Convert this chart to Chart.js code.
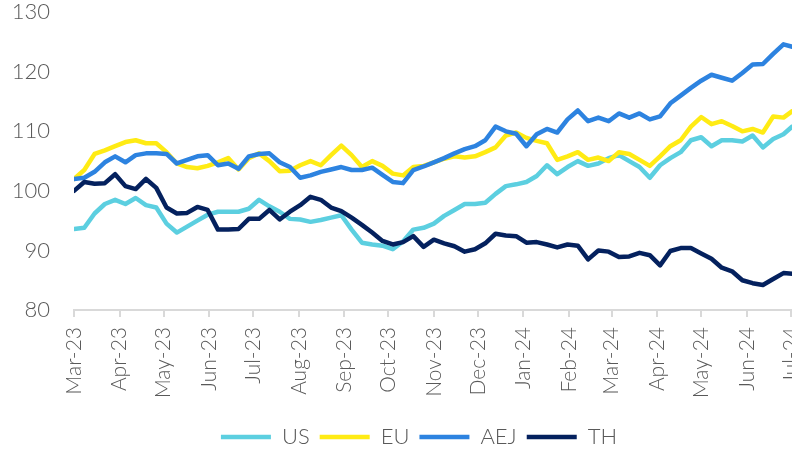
<!DOCTYPE html>
<html>
<head>
<meta charset="utf-8">
<script src="https://cdn.jsdelivr.net/npm/chart.js@4.4.1/dist/chart.umd.min.js"></script>
<style>
    html, body { margin: 0; padding: 0; background: #fff; overflow: hidden; }
    #wrap { position: relative; width: 826px; height: 475px; margin-top: -17px; }
</style>
</head>
<body>
<div id="wrap"><canvas id="indexChart"></canvas></div>
<script>
// Days since 1 Mar 2023 for each sampled point (weekly)
const days = [0, 7, 14, 21, 28, 35, 42, 49, 56, 63, 70, 77, 84, 91, 98, 105, 112, 119, 126, 133,
    140, 147, 154, 161, 168, 175, 182, 189, 196, 203, 210, 217, 224, 231, 238, 245, 252, 259, 266, 273,
    280, 287, 294, 301, 308, 315, 322, 329, 336, 343, 350, 357, 364, 371, 378, 385, 392, 399, 406, 413,
    420, 427, 434, 441, 448, 455, 462, 469, 476, 483, 489];

const usValues = [93.6, 93.8, 96.2, 97.8, 98.5, 97.8, 98.8, 97.6, 97.2, 94.5, 93, 94, 95, 96, 96.5, 96.5, 96.5, 97, 98.5, 97.4,
    96.5, 95.3, 95.2, 94.8, 95.1, 95.5, 95.9, 93.5, 91.3, 91, 90.8, 90.2, 91.5, 93.5, 93.8, 94.5, 95.8, 96.8, 97.8, 97.8,
    98, 99.5, 100.8, 101.1, 101.5, 102.5, 104.3, 102.8, 104, 105, 104.2, 104.6, 105.5, 106, 105, 104, 102.2, 104.3, 105.5, 106.5,
    108.5, 109, 107.5, 108.5, 108.5, 108.3, 109.3, 107.3, 108.7, 109.5, 110.8];

const euValues = [102, 103.5, 106.2, 106.8, 107.5, 108.2, 108.5, 108, 108, 106.5, 104.6, 104, 103.8, 104.2, 104.8, 105.5, 103.6, 105.5, 106.3, 105,
    103.3, 103.4, 104.3, 105, 104.3, 106, 107.6, 106, 104, 105, 104.2, 102.9, 102.6, 104, 104.2, 104.8, 105.4, 105.8, 105.6, 105.8,
    106.5, 107.3, 109.3, 109.8, 108.9, 108.4, 108, 105.2, 105.8, 106.5, 105.2, 105.6, 105, 106.5, 106.2, 105.2, 104.2, 105.8, 107.5, 108.5,
    110.8, 112.4, 111.2, 111.7, 110.9, 110, 110.4, 109.8, 112.5, 112.3, 113.4];

const aejValues = [102, 102.2, 103.2, 104.8, 105.8, 104.8, 106, 106.3, 106.3, 106.2, 104.6, 105.2, 105.8, 106, 104.3, 104.6, 103.7, 105.8, 106.2, 106.3,
    104.8, 104, 102.2, 102.6, 103.2, 103.6, 104, 103.5, 103.5, 103.9, 102.7, 101.5, 101.3, 103.5, 104.1, 104.8, 105.5, 106.3, 107, 107.5,
    108.5, 110.8, 110, 109.6, 107.5, 109.5, 110.4, 109.8, 112, 113.5, 111.7, 112.3, 111.7, 113, 112.3, 113, 112, 112.5, 114.7, 116,
    117.3, 118.5, 119.5, 119, 118.5, 119.8, 121.2, 121.3, 123, 124.6, 124.2];

const thValues = [100, 101.5, 101.2, 101.3, 102.8, 100.8, 100.3, 102, 100.5, 97.2, 96.2, 96.3, 97.3, 96.8, 93.5, 93.5, 93.6, 95.3, 95.3, 96.8,
    95.2, 96.5, 97.6, 99, 98.5, 97.2, 96.6, 95.5, 94.3, 93, 91.6, 91, 91.4, 92.4, 90.6, 91.8, 91.2, 90.7, 89.8, 90.2,
    91.2, 92.8, 92.5, 92.4, 91.3, 91.4, 91, 90.5, 91, 90.8, 88.5, 90, 89.8, 88.9, 89, 89.6, 89.2, 87.5, 89.9, 90.4,
    90.4, 89.5, 88.6, 87.1, 86.5, 85, 84.5, 84.2, 85.2, 86.2, 86.1];

// Month tick positions (days since 1 Mar 2023) and their labels
const monthStarts = [0, 31, 61, 92, 122, 153, 184, 214, 245, 275, 306, 337, 366, 397, 427, 458, 488];
const monthLabels = ['Mar-23', 'Apr-23', 'May-23', 'Jun-23', 'Jul-23', 'Aug-23', 'Sep-23', 'Oct-23',
    'Nov-23', 'Dec-23', 'Jan-24', 'Feb-24', 'Mar-24', 'Apr-24', 'May-24', 'Jun-24', 'Jul-24'];

const yTicks = [80, 90, 100, 110, 120, 130];

const textGrey = '#595959';
const axisGrey = '#d9d9d9';
const fontFamily = 'Lato, "Open Sans", "Noto Sans", sans-serif';

/* Pairs the day offsets with a series */
const toPoints = (values) => values.map((v, i) => ({ x: days[i], y: v }));

/* Builds one line dataset */
const makeLine = (label, values, color, order) => ({
    label: label,
    data: toPoints(values),
    borderColor: color,
    backgroundColor: color,
    borderWidth: 4.5,
    borderCapStyle: 'round',
    borderJoinStyle: 'round',
    pointRadius: 0,
    tension: 0,
    order: order
});

// Nudges the legend a little to the right, like the original
const legendShift = {
    id: 'legendShift',
    afterLayout: (chart) => {
        chart.legend.left += 6;
        chart.legend.right += 6;
    }
};

const buildChart = () => {

    const data = {
        datasets: [
            makeLine('US', usValues, '#5ccfe0', 3),
            makeLine('EU', euValues, '#ffeb14', 2),
            makeLine('AEJ', aejValues, '#2d83e0', 1),
            makeLine('TH', thValues, '#04215e', 0)
        ]
    };

    const config = {
        type: 'line',
        data: data,
        plugins: [legendShift],
        options: {
            responsive: true,
            maintainAspectRatio: false,
            animation: false,
            layout: { padding: { top: 8, left: 0, right: 0, bottom: 0 } },
            plugins: {
                tooltip: { enabled: false },
                legend: {
                    position: 'bottom',
                    labels: {
                        usePointStyle: true,
                        pointStyle: 'line',
                        pointStyleWidth: 50,
                        color: textGrey,
                        padding: 10,
                        font: { family: fontFamily, size: 22, weight: '300' },
                        sort: (a, b) => a.datasetIndex - b.datasetIndex
                    }
                }
            },
            scales: {
                x: {
                    type: 'linear',
                    min: 0,
                    max: 490,
                    afterBuildTicks: (scale) => {
                        scale.ticks = monthStarts.map(v => ({ value: v }));
                    },
                    afterFit: (scale) => { scale.height = 106; },
                    grid: {
                        drawOnChartArea: false,
                        drawTicks: true,
                        tickLength: 7,
                        color: axisGrey,
                        lineWidth: 2
                    },
                    border: { display: true, color: axisGrey, width: 2 },
                    ticks: {
                        autoSkip: false,
                        minRotation: 90,
                        maxRotation: 90,
                        padding: 10,
                        color: textGrey,
                        font: { family: fontFamily, size: 21, weight: '300' },
                        callback: (value, index) => monthLabels[index]
                    }
                },
                y: {
                    min: 80,
                    max: 130,
                    afterBuildTicks: (scale) => {
                        scale.ticks = yTicks.map(v => ({ value: v }));
                    },
                    afterFit: (scale) => { scale.width = 74; },
                    grid: { display: false },
                    border: { display: false },
                    ticks: {
                        padding: 16,
                        color: textGrey,
                        font: { family: fontFamily, size: 22, weight: '300' }
                    }
                }
            }
        }
    };

    const ctx = document.getElementById('indexChart').getContext('2d');
    const indexChart = new Chart(ctx, config);
}

document.addEventListener("DOMContentLoaded", () => {
    buildChart();
});
</script>
</body>
</html>
